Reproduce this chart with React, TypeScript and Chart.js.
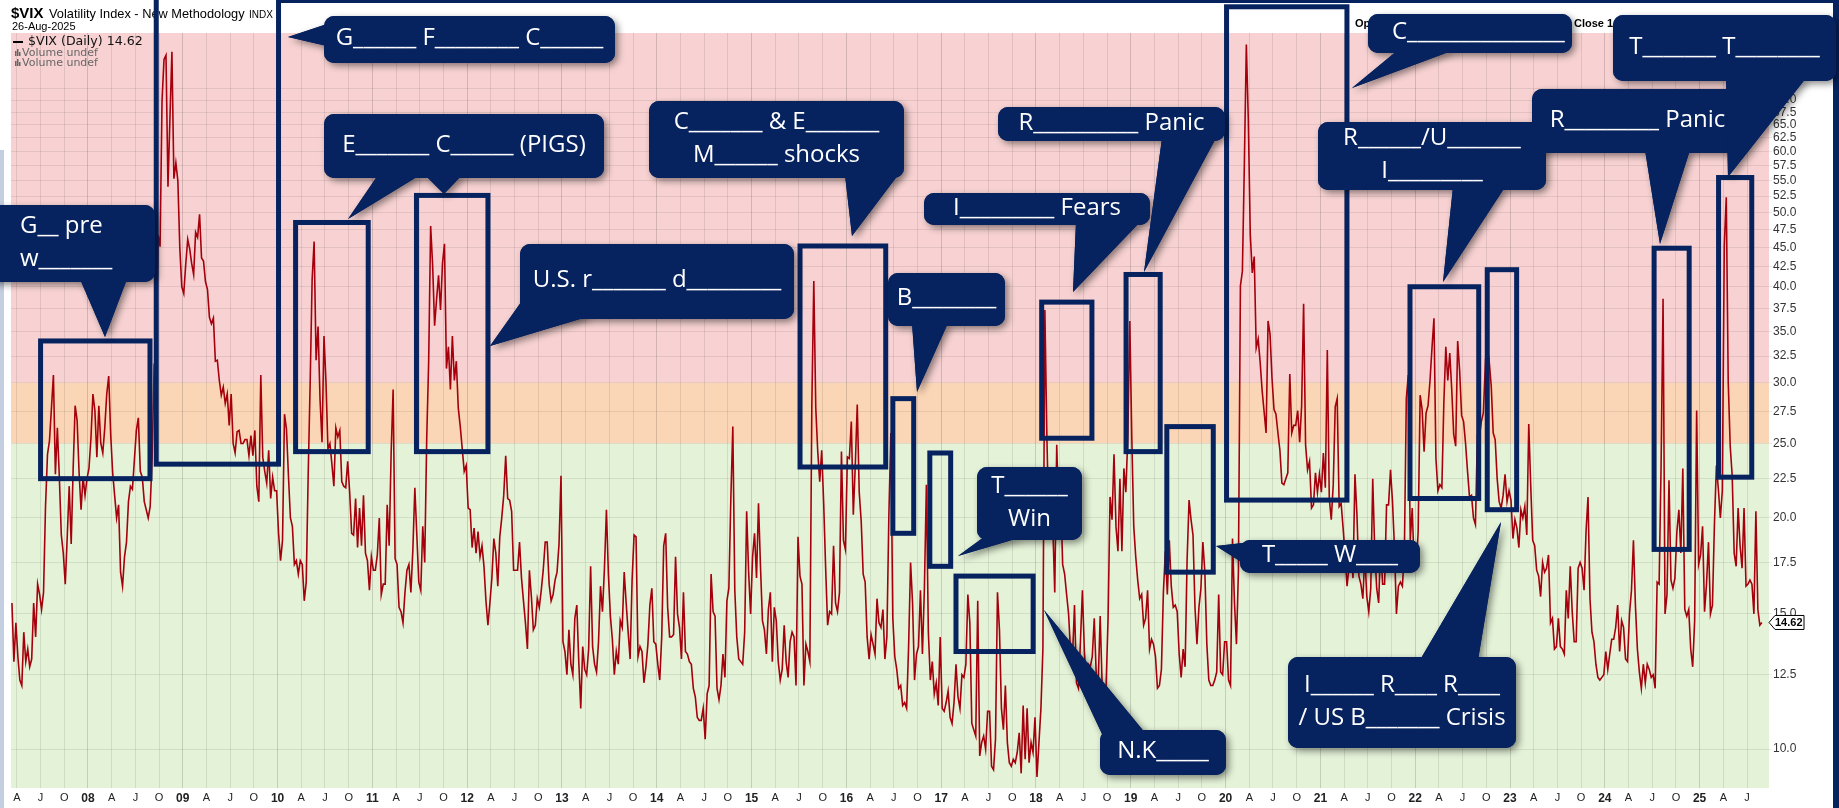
import React, { useEffect, useRef } from 'react';
import { Chart, registerables } from 'chart.js';

Chart.register(...registerables);

// ---------------- data (weekly readings, 4 per month) ----------------
const vix2007 = [15.5, 13.0, 14.6,
  13.2, 12.3, 12.1, 14.2, 13.0, 13.5, 12.8, 13.1, 15.5, 14.0, 16.4, 15.9,
  15.2, 16.0, 20.7, 24.2, 25.2, 27.8, 30.7, 22.8, 26.2, 22.6, 19.0, 18.0,
  16.4, 18.9, 22.0, 18.5, 23.2, 28.0, 26.8, 22.9, 20.5, 22.6, 21.4, 22.5];
const vix2008 = [23.2, 25.4, 29.0, 27.6, 24.0, 28.0, 25.0, 24.3, 26.2, 29.0, 30.6, 25.7,
  22.9, 21.4, 20.0, 20.8, 17.0, 16.3, 17.8, 18.6, 21.0, 22.0, 21.8, 23.8,
  26.0, 27.0, 23.0, 22.6, 21.0, 20.5, 20.0, 20.7, 24.0, 31.7, 32.0, 46.7,
  45.1, 69.9, 79.1, 80.1, 54.0, 66.3, 80.9, 55.3, 58.0, 55.0, 44.9, 40.0];
const vix2009 = [39.2, 42.8, 46.1, 44.8, 42.9, 41.5, 47.1, 46.4, 49.7, 43.6, 43.2, 40.6,
  39.7, 36.5, 35.8, 36.4, 32.0, 32.1, 30.2, 28.9, 29.6, 28.2, 29.0, 26.4,
  29.0, 25.0, 24.3, 25.9, 26.0, 25.0, 25.0, 25.3, 25.3, 24.1, 25.6, 24.1,
  26.0, 22.0, 21.0, 30.7, 24.0, 23.0, 22.2, 24.5, 21.2, 22.6, 21.7, 21.7];
const vix2010 = [19.1, 17.6, 18.7, 27.3, 26.1, 22.7, 20.0, 19.5, 17.4, 17.6, 16.9, 17.6,
  17.4, 15.6, 16.5, 22.8, 30.0, 40.9, 45.8, 32.1, 35.5, 28.5, 25.1, 34.5,
  30.1, 24.6, 25.0, 23.5, 22.0, 26.2, 25.5, 26.0, 22.3, 22.0, 21.9, 23.7,
  21.6, 19.1, 19.0, 21.2, 18.3, 20.6, 18.4, 21.4, 18.0, 17.6, 16.1, 17.8];
const vix2011 = [17.1, 17.1, 17.9, 20.0, 15.9, 16.4, 16.4, 20.8, 18.4, 24.3, 29.4, 17.7,
  17.4, 15.3, 15.1, 14.6, 16.0, 17.1, 17.4, 16.0, 18.2, 21.9, 19.0, 16.5,
  16.1, 19.5, 17.5, 25.3, 32.0, 48.0, 42.7, 35.6, 38.5, 41.4, 37.3, 42.9,
  45.5, 31.3, 33.4, 29.4, 34.5, 30.2, 32.0, 27.8, 26.3, 24.6, 23.0, 23.4];
const vix2012 = [20.6, 20.5, 18.3, 19.4, 18.0, 19.2, 17.8, 18.4, 17.3, 15.6, 14.5, 15.5,
  16.7, 18.8, 18.0, 16.3, 18.9, 20.0, 21.4, 24.1, 21.2, 21.1, 20.4, 17.1,
  17.1, 17.1, 18.6, 16.7, 15.6, 14.6, 13.5, 17.1, 15.8, 14.3, 14.5, 15.7,
  15.3, 16.1, 17.1, 18.6, 18.6, 16.4, 15.6, 15.9, 16.6, 17.0, 18.5, 22.7];
const vix2013 = [13.8, 13.4, 12.5, 14.3, 12.9, 12.5, 14.8, 15.4, 13.0, 11.3, 13.6, 12.7,
  12.5, 13.5, 17.3, 13.6, 12.9, 12.6, 13.8, 16.3, 15.1, 17.2, 20.5, 16.9,
  14.9, 13.9, 12.5, 13.4, 12.9, 14.7, 14.4, 17.0, 15.5, 14.2, 13.1, 16.6,
  19.0, 18.9, 13.2, 13.6, 13.4, 12.2, 12.8, 13.7, 15.4, 16.2, 13.8, 13.7];
const vix2014 = [12.9, 12.3, 14.0, 18.4, 19.1, 15.3, 14.0, 14.0, 14.1, 17.8, 15.0, 14.4,
  13.1, 16.0, 13.4, 13.3, 13.0, 12.9, 12.0, 11.7, 11.0, 10.9, 10.9, 11.3,
  10.3, 11.8, 12.1, 16.9, 15.1, 14.9, 12.0, 11.6, 12.1, 13.3, 12.4, 15.6,
  16.2, 21.2, 26.3, 16.1, 14.0, 13.1, 13.0, 12.9, 14.2, 20.4, 17.0, 15.0];
const vix2015 = [17.8, 19.1, 16.7, 20.9, 17.3, 14.7, 14.3, 13.3, 15.2, 16.0, 13.0, 15.3,
  14.7, 13.0, 12.3, 12.7, 14.5, 13.0, 12.4, 13.8, 14.2, 14.0, 12.1, 18.9,
  16.8, 16.4, 12.1, 13.7, 13.4, 13.0, 28.0, 40.7, 27.8, 24.4, 22.3, 24.5,
  20.9, 17.2, 14.5, 15.1, 15.0, 18.4, 15.5, 15.1, 16.0, 24.4, 18.7, 18.2];
const vix2016 = [24.0, 23.9, 26.7, 20.2, 23.4, 28.1, 21.6, 19.8, 16.9, 16.5, 14.0, 13.1,
  14.1, 13.7, 13.3, 15.7, 14.6, 14.4, 15.2, 13.1, 14.0, 20.1, 25.8, 14.8,
  13.2, 12.7, 12.0, 12.1, 11.4, 11.5, 11.3, 13.6, 17.5, 15.5, 12.3, 13.3,
  13.6, 16.1, 13.3, 16.2, 22.1, 14.2, 12.3, 13.0, 11.8, 12.2, 11.4, 14.0];
const vix2017 = [11.3, 11.2, 11.5, 11.9, 11.0, 10.8, 11.5, 12.9, 11.7, 11.3, 12.5, 12.4,
  12.9, 15.9, 14.6, 10.8, 10.6, 10.4, 15.6, 9.8, 10.2, 10.4, 10.0, 11.2,
  11.2, 9.5, 9.4, 10.3, 16.0, 14.3, 11.3, 10.6, 12.1, 10.2, 9.6, 9.5,
  9.7, 9.6, 9.9, 10.5, 9.3, 11.4, 9.7, 11.3, 9.6, 10.2, 9.9, 11.0];
const vix2018 = [9.2, 10.2, 11.3, 13.5, 37.3, 25.6, 19.5, 19.9, 19.6, 16.0, 24.9, 20.0,
  21.5, 17.4, 16.9, 15.9, 15.0, 13.4, 13.2, 15.4, 12.2, 12.0, 13.8, 16.1,
  13.4, 12.2, 12.9, 12.8, 13.2, 14.8, 12.5, 12.2, 14.9, 12.1, 11.7, 12.1,
  14.8, 21.3, 19.9, 24.2, 19.5, 18.1, 22.5, 18.1, 23.2, 21.6, 25.6, 36.1];
const vix2019 = [25.5, 19.5, 17.8, 16.6, 15.7, 15.9, 14.5, 14.8, 16.1, 13.5, 13.9, 13.7,
  13.2, 12.0, 12.1, 12.7, 16.0, 18.1, 15.9, 18.7, 16.3, 15.3, 15.4, 15.1,
  13.3, 12.4, 13.5, 12.8, 17.6, 21.1, 19.9, 19.0, 15.3, 13.7, 15.3, 16.2,
  18.6, 17.0, 13.7, 12.3, 12.1, 12.1, 12.3, 12.6, 15.9, 12.6, 12.5, 13.8];
const vix2020 = [13.8, 12.3, 12.1, 18.8, 15.5, 13.7, 17.1, 40.1, 41.9, 57.8, 82.7, 66.0,
  46.8, 41.7, 43.8, 33.3, 34.2, 31.9, 29.3, 27.5, 25.8, 36.1, 34.7, 30.4,
  27.7, 27.3, 25.8, 24.5, 22.2, 22.1, 22.5, 22.9, 30.8, 25.8, 26.4, 26.4,
  27.6, 25.1, 28.0, 38.0, 24.9, 23.1, 23.7, 20.6, 20.8, 22.9, 21.6, 22.8];
const vix2021 = [21.6, 24.3, 21.9, 33.1, 21.2, 19.9, 22.1, 27.9, 28.6, 20.7, 20.9, 19.4,
  17.9, 16.3, 17.3, 18.6, 16.7, 22.8, 20.2, 16.8, 16.4, 15.7, 17.9, 15.8,
  15.1, 16.2, 22.5, 18.2, 16.2, 15.5, 18.5, 16.4, 16.4, 20.8, 20.8, 23.1,
  21.0, 18.3, 15.0, 16.3, 16.5, 16.3, 17.9, 28.6, 30.7, 18.7, 20.6, 17.2];
const vix2022 = [17.2, 19.2, 28.9, 27.7, 24.4, 27.4, 28.0, 30.2, 33.3, 36.4, 23.9, 21.7,
  22.1, 21.9, 28.2, 33.4, 30.2, 32.8, 29.4, 25.7, 24.8, 34.0, 31.1, 27.2,
  26.7, 25.0, 23.0, 21.3, 21.4, 20.0, 19.6, 25.6, 25.5, 26.7, 27.4, 31.6,
  30.5, 31.9, 29.7, 25.8, 25.3, 22.5, 21.0, 20.6, 21.4, 22.8, 21.0, 21.7];
const vix2023 = [21.1, 18.8, 19.9, 19.4, 18.3, 20.5, 20.0, 20.7, 19.0, 26.5, 22.0, 18.7,
  18.4, 17.1, 16.8, 15.8, 17.5, 17.0, 17.2, 17.9, 14.6, 14.8, 13.5, 13.6,
  14.8, 13.6, 13.5, 13.3, 16.1, 14.8, 17.3, 15.1, 13.8, 13.8, 17.2, 17.5,
  17.2, 16.1, 19.2, 21.3, 15.7, 14.2, 13.8, 12.9, 12.4, 12.3, 12.4, 12.5];
const vix2024 = [13.4, 12.7, 13.3, 13.9, 13.9, 14.4, 15.4, 13.4, 14.7, 14.4, 13.1, 13.0,
  15.0, 16.1, 18.7, 15.4, 13.5, 12.6, 12.0, 12.9, 12.2, 12.9, 12.7, 12.4,
  12.5, 12.0, 16.5, 16.4, 23.4, 38.6, 15.0, 15.9, 22.4, 16.6, 16.2, 16.7,
  19.2, 20.5, 18.0, 23.2, 15.2, 14.9, 15.2, 13.5, 12.8, 14.7, 27.6, 17.4];
const vix2025 = [17.9, 19.5, 15.1, 16.4, 18.6, 15.0, 15.4, 19.6, 23.4, 21.8, 20.0, 21.7,
  45.3, 52.3, 30.0, 24.8, 22.7, 18.0, 17.3, 20.6, 18.4, 17.2, 20.6, 16.3,
  16.4, 16.6, 16.4, 15.0, 20.4, 15.2, 14.5, 14.62];

const seriesYears = [2007, 2008, 2009, 2010, 2011, 2012, 2013, 2014, 2015, 2016,
  2017, 2018, 2019, 2020, 2021, 2022, 2023, 2024, 2025];
const seriesValues = [vix2007, vix2008, vix2009, vix2010, vix2011, vix2012, vix2013,
  vix2014, vix2015, vix2016, vix2017, vix2018, vix2019, vix2020, vix2021, vix2022,
  vix2023, vix2024, vix2025];

const yTickValues = [10, 12.5, 15, 17.5, 20, 22.5, 25, 27.5, 30, 32.5, 35, 37.5, 40,
  42.5, 45, 47.5, 50, 52.5, 55, 57.5, 60, 62.5, 65, 67.5, 70, 72.5];
const quarterNames = ['', 'A', 'J', 'O'];
const lastClose = 14.62;
const cautionLevel = 25;
const fearLevel = 30;

// highlighted episodes (date range, value range)
const episodeFrom = [2007.50, 2008.72, 2010.19, 2011.465, 2015.511, 2016.49, 2016.88, 2017.156,
  2018.06, 2018.95, 2019.38, 2020.01, 2021.945, 2022.76, 2024.52, 2025.20];
const episodeTo = [2008.654, 2010.01, 2010.956, 2012.219, 2016.415, 2016.71, 2017.10, 2017.97,
  2018.59, 2019.31, 2019.87, 2021.28, 2022.67, 2023.07, 2024.89, 2025.55];
const episodeLow = [22.5, 23.5, 24.4, 24.4, 23.3, 19.1, 17.3, 13.4, 25.4, 24.4, 17.0, 21.1,
  21.2, 20.5, 18.2, 22.6];
const episodeHigh = [34.0, 130, 48.5, 52.6, 45.2, 28.6, 24.3, 16.8, 38.2, 41.5, 26.3, 92.6,
  40.0, 42.1, 44.9, 55.5];

// ---------------- layout / style ----------------
const W = 1839;
const H = 808;
const NAVY = '#06225f';
const PINK = '#f8d2d2';
const ORANGE = '#fbd6b6';
const GREEN = '#e4f2d8';

type Callout = { box: [number, number, number, number]; lines: string[]; tips: number[][][]; textX?: number };
const callouts: Callout[] = [
  { box: [-12, 205, 167, 77], lines: ['G__ pre', 'w_______'], textX: 20, tips: [[[80, 279], [105, 337], [127, 279]]] },
  { box: [324, 16, 291, 47], lines: ['G______ F________ C______'], tips: [[[327, 24], [288, 37], [327, 46]]] },
  { box: [324, 114, 280, 64], lines: ['E_______ C______ (PIGS)'], tips: [[[378, 175], [348, 219], [420, 175]], [[425, 175], [444, 194], [462, 175]]] },
  { box: [520, 244, 274, 75], lines: ['U.S. r_______ d_________'], tips: [[[524, 298], [490, 346], [590, 316]]] },
  { box: [649, 101, 255, 77], lines: ['C_______ & E_______', 'M______ shocks'], tips: [[[845, 175], [852, 236], [898, 175]]] },
  { box: [888, 273, 117, 53], lines: ['B________'], tips: [[[912, 323], [917, 392], [948, 323]]] },
  { box: [977, 467, 105, 73], lines: ['T______', 'Win'], tips: [[[984, 537], [958, 556], [1022, 537]]] },
  { box: [1100, 730, 126, 45], lines: ['N.K_____'], tips: [[[1102, 734], [1044, 610], [1146, 734]]] },
  { box: [924, 193, 226, 32], lines: ['I_________ Fears'], tips: [[[1076, 222], [1073, 292], [1140, 222]]] },
  { box: [998, 107, 227, 34], lines: ['R__________ Panic'], tips: [[[1162, 138], [1144, 272], [1216, 138]]] },
  { box: [1240, 540, 180, 33], lines: ['T_____ W____'], tips: [[[1243, 543], [1216, 546], [1243, 563]]] },
  { box: [1368, 14, 204, 39], lines: ['C_______________'], textX: 1392, tips: [[[1398, 50], [1352, 88], [1454, 50]]] },
  { box: [1532, 89, 211, 64], lines: ['R_________ Panic'], tips: [[[1645, 150], [1660, 244], [1690, 150]]] },
  { box: [1318, 122, 228, 68], lines: ['R______/U_______', 'I_________'], tips: [[[1453, 187], [1443, 282], [1505, 187]]] },
  { box: [1288, 657, 228, 91], lines: ['I______ R____ R____', '/ US B_______ Crisis'], tips: [[[1420, 660], [1501, 522], [1478, 660]]] },
  { box: [1613, 15, 223, 66], lines: ['T_______ T________'], tips: [[[1726, 78], [1728, 177], [1806, 78]]] },
];

function buildPoints() {
  const pts: { x: number; y: number }[] = [];
  seriesYears.forEach((yr, k) => {
    const vals = seriesValues[k];
    const offset = k === 0 ? 48 - vals.length : 0;
    vals.forEach((v, i) => pts.push({ x: yr + (offset + i + 0.5) / 48, y: v }));
  });
  return pts;
}

function isYearTick(v: number) {
  return Math.abs(v - Math.round(v)) < 1e-6;
}

const overlayPlugin = {
  id: 'vixOverlay',
  beforeDraw(chart: any) {
    const { ctx, chartArea: a, scales } = chart;
    const y = scales.y;
    ctx.save();
    ctx.fillStyle = '#ffffff';
    ctx.fillRect(0, 0, chart.width, chart.height);
    const y25 = y.getPixelForValue(cautionLevel);
    const y30 = y.getPixelForValue(fearLevel);
    ctx.fillStyle = PINK;
    ctx.fillRect(a.left, a.top, a.width, y30 - a.top);
    ctx.fillStyle = ORANGE;
    ctx.fillRect(a.left, y30, a.width, y25 - y30);
    ctx.fillStyle = GREEN;
    ctx.fillRect(a.left, y25, a.width, a.bottom - y25);
    ctx.restore();
  },
  afterDraw(chart: any) {
    const { ctx, scales } = chart;
    const x = scales.x;
    const y = scales.y;
    ctx.save();

    // frame
    ctx.fillStyle = NAVY;
    ctx.fillRect(279, 0, W - 279, 3);
    ctx.fillRect(W - 6, 0, 6, H);
    ctx.fillStyle = '#c3cee0';
    ctx.fillRect(0, 150, 4, H - 150);

    // header
    ctx.fillStyle = '#000';
    ctx.textBaseline = 'alphabetic';
    ctx.font = 'bold 15px "Liberation Sans", Arial, sans-serif';
    ctx.fillText('$VIX', 11, 18);
    ctx.font = '12.8px "Liberation Sans", Arial, sans-serif';
    ctx.fillText('Volatility Index - New Methodology', 49, 18);
    ctx.font = '10px "Liberation Sans", Arial, sans-serif';
    ctx.fillText('INDX', 249, 18);
    ctx.font = '11px "Liberation Sans", Arial, sans-serif';
    ctx.fillText('26-Aug-2025', 12, 30);
    ctx.font = 'bold 11px "Liberation Sans", Arial, sans-serif';
    ctx.fillText('Open 14.79  High 15.11  Low 14.42', 1355, 27);
    ctx.fillText('Close 14.62', 1574, 27);

    // legend
    ctx.strokeStyle = '#000';
    ctx.lineWidth = 2;
    ctx.beginPath();
    ctx.moveTo(13, 42);
    ctx.lineTo(23, 42);
    ctx.stroke();
    ctx.textBaseline = 'middle';
    ctx.fillStyle = '#111';
    ctx.font = '12.6px "DejaVu Sans", sans-serif';
    ctx.fillText('$VIX (Daily) 14.62', 28, 42);
    ctx.fillStyle = '#666';
    ctx.font = '11px "DejaVu Sans", sans-serif';
    [53, 63].forEach((ly) => {
      ctx.fillRect(15, ly - 2, 1.5, 5);
      ctx.fillRect(17, ly - 4, 1.5, 7);
      ctx.fillRect(19, ly - 1, 1.5, 4);
      ctx.fillText('Volume undef', 22, ly);
    });

    // last value tag
    const py = y.getPixelForValue(lastClose);
    const tx = chart.chartArea.right;
    ctx.beginPath();
    ctx.moveTo(tx, py);
    ctx.lineTo(tx + 6, py - 7);
    ctx.lineTo(tx + 35, py - 7);
    ctx.lineTo(tx + 35, py + 7);
    ctx.lineTo(tx + 6, py + 7);
    ctx.closePath();
    ctx.fillStyle = '#fff';
    ctx.fill();
    ctx.strokeStyle = '#000';
    ctx.lineWidth = 1;
    ctx.stroke();
    ctx.fillStyle = '#000';
    ctx.font = 'bold 11px "Liberation Sans", Arial, sans-serif';
    ctx.fillText(lastClose.toFixed(2), tx + 6, py + 0.5);

    // episode rectangles
    ctx.strokeStyle = NAVY;
    ctx.lineWidth = 5;
    episodeFrom.forEach((f, i) => {
      const x0 = x.getPixelForValue(f);
      const x1 = x.getPixelForValue(episodeTo[i]);
      const yTop = Math.max(-10, y.getPixelForValue(episodeHigh[i]));
      const yBot = y.getPixelForValue(episodeLow[i]);
      ctx.strokeRect(x0, yTop, x1 - x0, yBot - yTop);
    });

    // callouts
    const shapes = (c: Callout) => {
      const [bx, by, bw, bh] = c.box;
      ctx.beginPath();
      ctx.roundRect(bx, by, bw, bh, 10);
      ctx.fill();
      c.tips.forEach((t) => {
        ctx.beginPath();
        ctx.moveTo(t[0][0], t[0][1]);
        ctx.lineTo(t[1][0], t[1][1]);
        ctx.lineTo(t[2][0], t[2][1]);
        ctx.closePath();
        ctx.fill();
      });
    };
    callouts.forEach((c) => {
      ctx.save();
      ctx.fillStyle = NAVY;
      ctx.shadowColor = 'rgba(0,0,0,0.45)';
      ctx.shadowBlur = 7;
      ctx.shadowOffsetX = 3;
      ctx.shadowOffsetY = 3;
      shapes(c);
      ctx.restore();
    });
    callouts.forEach((c) => {
      ctx.fillStyle = NAVY;
      shapes(c);
      const [bx, by, bw, bh] = c.box;
      ctx.fillStyle = '#ffffff';
      ctx.font = '24px "Open Sans", sans-serif';
      ctx.textBaseline = 'middle';
      ctx.textAlign = c.textX !== undefined ? 'left' : 'center';
      const cx = c.textX !== undefined ? c.textX : bx + bw / 2;
      const n = c.lines.length;
      c.lines.forEach((line, i) => {
        ctx.fillText(line, cx, by + bh / 2 + (i - (n - 1) / 2) * 33 - 1);
      });
      ctx.textAlign = 'left';
    });
    ctx.restore();
  },
};

export default function App() {
  const ref = useRef<HTMLCanvasElement | null>(null);
  useEffect(() => {
    if (!ref.current) return;
    const xTicks: number[] = [];
    for (let yr = 2007; yr <= 2025; yr++) {
      for (let q = 0; q < 4; q++) xTicks.push(yr + q * 0.25);
    }
    const chart = new Chart(ref.current, {
      type: 'line',
      data: {
        datasets: [
          {
            label: '$VIX (Daily)',
            data: buildPoints(),
            borderColor: '#a5000c',
            borderWidth: 1.6,
            pointRadius: 0,
            tension: 0,
            fill: false,
          },
        ],
      },
      options: {
        animation: false,
        responsive: true,
        maintainAspectRatio: false,
        events: [],
        layout: { padding: { left: 11, top: 33, right: 6, bottom: 0 } },
        plugins: { legend: { display: false }, tooltip: { enabled: false } },
        scales: {
          x: {
            type: 'linear',
            min: 2007.188,
            max: 2025.732,
            border: { display: false },
            grid: {
              drawTicks: false,
              color: (c: any) => (c.tick && isYearTick(c.tick.value) ? 'rgba(0,0,0,0.15)' : 'rgba(0,0,0,0.09)'),
            },
            afterBuildTicks: (s: any) => {
              s.ticks = xTicks.filter((v) => v >= s.min && v <= s.max).map((v) => ({ value: v }));
            },
            afterFit: (s: any) => {
              s.height = 20;
            },
            ticks: {
              autoSkip: false,
              maxRotation: 0,
              minRotation: 0,
              padding: 3,
              color: '#222',
              font: (c: any) =>
                c.tick && isYearTick(c.tick.value)
                  ? { family: '"Liberation Sans", Arial, sans-serif', size: 12, weight: 'bold' }
                  : { family: '"Liberation Sans", Arial, sans-serif', size: 11, weight: 'normal' },
              callback: (v: any) => {
                const val = Number(v);
                const yr = Math.floor(val + 1e-6);
                const q = Math.round((val - yr) * 4);
                return q === 0 ? String(yr % 100).padStart(2, '0') : quarterNames[q];
              },
            },
          },
          y: {
            type: 'logarithmic',
            position: 'right',
            min: 8.9,
            max: 85.6,
            border: { display: false },
            grid: { color: 'rgba(0,0,0,0.08)', drawTicks: true, tickLength: 3 },
            afterBuildTicks: (s: any) => {
              s.ticks = yTickValues.map((v) => ({ value: v }));
            },
            afterFit: (s: any) => {
              s.width = 64;
            },
            ticks: {
              autoSkip: false,
              padding: 1,
              color: '#333',
              font: { family: '"Liberation Sans", Arial, sans-serif', size: 12 },
              callback: (v: any) => Number(v).toFixed(1),
            },
          },
        },
      },
      plugins: [overlayPlugin],
    } as any);
    return () => chart.destroy();
  }, []);

  return (
    <div style={{ position: 'fixed', left: 0, top: 0, width: W, height: H, background: '#fff' }}>
      <canvas ref={ref} />
    </div>
  );
}
